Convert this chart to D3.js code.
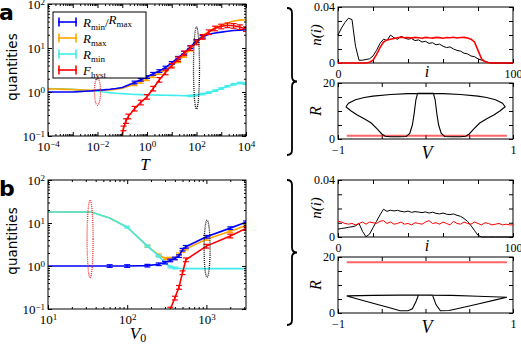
<!DOCTYPE html>
<html lang="en">
<head>
<meta charset="UTF-8">
<script src="https://d3js.org/d3.v7.min.js"></script>
<style>
body { margin: 0; background: #fff; }
</style>
</head>
<body>
<script>
// ---- panel a (main): T on log axis, exponents
var tExpA = [-4,-3.75,-3.5,-3.25,-3,-2.75,-2.5,-2.25,-2,-1.75,-1.5,-1.25,-1,-0.75,-0.5,-0.25,0,0.25,0.5,0.75,1,1.25,1.5,1.75,2,2.25,2.5,2.75,3,3.25,3.5,3.75,4];
var blueA   = [1.0,1.0,1.0,1.0,1.0,1.02,1.04,1.06,1.1,1.12,1.15,1.2,1.27,1.45,1.65,1.9,2.2,2.6,3.0,3.6,4.6,6.0,7.8,10.5,14.5,18,20.5,22,23,24,25,25.5,26];
var orangeA = [1.18,1.17,1.16,1.15,1.14,1.12,1.11,1.1,1.1,1.1,1.12,1.15,1.22,1.35,1.5,1.7,1.95,2.3,2.7,3.2,4.0,5.0,6.6,9.2,14,19,24,29,33,37,41,43,44];
var cyanA   = [1.2,1.19,1.18,1.16,1.15,1.12,1.1,1.07,1.04,1.0,0.97,0.94,0.92,0.9,0.88,0.87,0.86,0.855,0.85,0.845,0.84,0.83,0.82,0.82,0.85,0.9,0.97,1.07,1.2,1.35,1.5,1.6,1.55];
var redExpA = [-1.02,-0.95,-0.85,-0.75,-0.5,-0.25,0,0.25,0.5,0.75,1,1.25,1.5,1.75,2,2.25,2.5,2.75,3,3.25,3.5,3.75,4];
var redA    = [0.1,0.15,0.22,0.28,0.42,0.58,0.78,1.2,1.9,2.8,4.0,5.6,7.6,10,13.5,18,23,28,31,33,32,30,27];

// ---- panel b (main): V0
var v0B     = [10,20,35,60,100,180,250,300,350,400,450,500,550,1000,2000,3162];
var cyanB   = [18,18,18,13,8,2.9,1.7,1.2,0.95,0.9,0.88,0.87,0.87,0.87,0.87,0.87];
var blueB   = [1.0,1.0,1.0,1.0,1.0,1.02,1.1,1.2,1.35,1.5,1.7,2.4,2.8,4.8,7.6,10.4];
var orangeB = [18,18,18,13,8,2.9,1.8,1.5,1.5,1.5,1.9,2.2,2.5,4.2,6.4,8.7];
var redV0B  = [350,400,450,500,550,1000,2000,3162];
var redB    = [0.1,0.18,0.32,0.7,1.4,2.9,5.0,7.5];

// dotted ellipses: [x value, y low, y high, colour]
var ellA = [[0.01, 0.5, 2.1, "#e33"], [100, 0.41, 30, "#111"]];
var ellB = [[34, 0.53, 34, "#e33"], [1020, 0.55, 11.7, "#111"]];

// ---- n(i) distributions
var iGrid = d3.range(0, 101, 2);
var nBlackA = [.020,.025,.029,.032,.031,.012,.002,.002,.0025,.003,.005,.009,.014,.017,.016,.020,.018,.017,.019,.018,.017,.0175,.016,.0165,.015,.0155,.014,.0145,.013,.0135,.012,.011,.0115,.010,.009,.0085,.007,.0065,.005,.0045,.003,.002,.001,.0005,0,0,0,0,0,0,0];
var nRedA   = [0,0,0,0,0,0,0,0,0,.0005,.002,.006,.011,.015,.0165,.017,.0175,.018,.0185,.018,.0182,.0178,.0183,.018,.0177,.0183,.018,.0178,.0183,.0181,.0177,.0182,.018,.0184,.0179,.0182,.0183,.0178,.017,.015,.009,.003,.001,.0002,0,0,0,0,0,0,0];
var nBlackB = [.0055,.006,.0063,.0068,.0072,.0078,.0095,.004,.0002,.002,.0065,.011,.0155,.0195,.018,.0188,.0183,.0187,.018,.0176,.0182,.0173,.0178,.0175,.0171,.0176,.0168,.0174,.0166,.0162,.0168,.016,.0157,.0162,.0152,.0145,.013,.011,.008,.0045,.0012,0,0,0,0,0,0,0,0,0,0];
var nRedB   = [.011,.0105,.0095,.009,.0095,.0085,.0095,.0105,.009,.0105,.01,.0095,.011,.0115,.0095,.0105,.009,.0095,.0105,.009,.0095,.0085,.01,.0095,.009,.0105,.0115,.0095,.01,.009,.0105,.0095,.0085,.011,.0095,.009,.0105,.0095,.009,.0105,.0095,.0085,.01,.0095,.0085,.009,.0095,.0085,.009,.0085,.0085];

// ---- R(V) loops
var rLoopAV = [-0.91,-0.88,-0.8,-0.7,-0.6,-0.4,-0.2,0,0.2,0.4,0.6,0.7,0.8,0.88,0.91,
               0.85,0.78,0.7,0.62,0.55,0.5,0.46,0.4,0.3,0.22,0.18,0.15,0.13,0.11,0.09,
               -0.09,-0.11,-0.13,-0.15,-0.18,-0.22,-0.3,-0.4,-0.46,-0.5,-0.55,-0.62,-0.7,-0.78,-0.85,-0.91];
var rLoopAR = [11.5,12.8,14.0,14.8,15.3,15.9,16.2,16.3,16.2,15.9,15.3,14.8,14.0,12.8,11.5,
               10,8.6,7.2,5.7,3.5,1.8,1.0,0.8,0.8,0.9,2,5,9,14,16.3,
               16.3,14,9,5,2,0.9,0.8,0.8,1.0,1.8,3.5,5.7,7.2,8.6,10,11.5];
var rLoopBV = [-0.9,-0.6,-0.3,0,0.3,0.6,0.93,
               0.8,0.6,0.4,0.27,0.17,0.12,0.08,
               -0.08,-0.11,-0.15,-0.2,-0.29,-0.4,-0.6,-0.9];
var rLoopBR = [6.1,6.3,6.4,6.4,6.3,6.0,5.6,
               4.7,3.2,1.8,0.9,0.8,3,6.4,
               6.4,4,1.5,0.8,0.8,1.8,3.5,6.1];
var rRedV = [-0.9, 0.93];
var rRedA = [1.2, 1.2];
var rRedB = [18.1, 18.1];

var BLUE = "#0000ff", ORANGE = "#ffa500", CYAN = "#40ecec", RED = "#ff0000";
var serif = "'Liberation Serif','DejaVu Serif',serif";

var svg = d3.select("body").append("svg")
    .attr("width", 521)
    .attr("height", 345);

function logTicks(dom, minor) {
    var out = [];
    var e0 = Math.floor(Math.log10(dom[0]) + 1e-9), e1 = Math.ceil(Math.log10(dom[1]) - 1e-9);
    for (var e = e0; e <= e1; e++) {
        if (!minor) {
            var v = Math.pow(10, e);
            if (v >= dom[0] * 0.999 && v <= dom[1] * 1.001) out.push(v);
        } else {
            for (var m = 2; m < 10; m++) {
                var v2 = m * Math.pow(10, e);
                if (v2 > dom[0] && v2 < dom[1]) out.push(v2);
            }
        }
    }
    return out;
}

function sideAxes(g, x, y, minorX, minorY, majX, majY, labX, labY, fmtX, fmtY, size) {
    var X0 = x.range()[0], X1 = x.range()[1], Yb = y.range()[0], Yt = y.range()[1];
    var sides = [
        [d3.axisBottom, x, "translate(0," + Yb + ")", true],
        [d3.axisTop, x, "translate(0," + Yt + ")", false],
        [d3.axisLeft, y, "translate(" + X0 + ",0)", true],
        [d3.axisRight, y, "translate(" + X1 + ",0)", false]
    ];
    sides.forEach(function(s, k) {
        var horiz = k < 2;
        var minors = horiz ? minorX : minorY;
        if (minors.length) {
            var mg = g.append("g").attr("transform", s[2])
                .call(s[0](s[1]).tickValues(minors).tickSize(-2).tickFormat(""));
            mg.select(".domain").remove();
        }
        var maj = g.append("g").attr("transform", s[2])
            .call(s[0](s[1]).tickValues(horiz ? majX : majY).tickSize(-4).tickPadding(horiz ? 6 : 3));
        maj.select(".domain").remove();
        maj.attr("font-family", serif).attr("font-size", size);
        var labs = horiz ? labX : labY, fmt = horiz ? fmtX : fmtY;
        maj.selectAll(".tick text").each(function(d) {
            var t = d3.select(this);
            t.text("");
            if (!s[3] || !labs(d)) return;
            fmt(t, d);
        });
    });
    g.append("rect")
        .attr("x", X0).attr("y", Yt)
        .attr("width", X1 - X0).attr("height", Yb - Yt)
        .attr("fill", "none").attr("stroke", "#000").attr("stroke-width", 1);
}

function powLabel(t, d) {
    var e = Math.round(Math.log10(d));
    t.append("tspan").text("10");
    t.append("tspan").attr("dy", "-0.45em").attr("font-size", "9px")
        .text(e < 0 ? "\u2212" + (-e) : e);
}
function plainLabel(t, d) {
    t.text(String(d).replace("-", "\u2212"));
}

var clipId = 0;
function mainPanel(xDom, top, bottom, xLabs) {
    var g = svg.append("g");
    var x = d3.scaleLog().domain(xDom).range([48, 246]);
    var y = d3.scaleLog().domain([0.1, 100]).range([bottom, top]);
    clipId++;
    g.append("clipPath").attr("id", "c" + clipId).append("rect")
        .attr("x", 48).attr("y", top).attr("width", 198).attr("height", bottom - top);
    var plot = g.append("g").attr("clip-path", "url(#c" + clipId + ")");
    sideAxes(g, x, y, logTicks(xDom, true), logTicks(y.domain(), true),
        logTicks(xDom, false), logTicks(y.domain(), false),
        function(d) { return xLabs.indexOf(Math.round(Math.log10(d))) >= 0; },
        function() { return true; }, powLabel, powLabel, 13);
    return {g: g, plot: plot, x: x, y: y};
}

function series(p, xs, ys, color, errRel, errFrom, errTo) {
    var pts = xs.map(function(v, k) { return [v, ys[k]]; });
    var line = d3.line().x(function(d) { return p.x(d[0]); }).y(function(d) { return p.y(d[1]); });
    p.plot.append("path").datum(pts)
        .attr("d", line).attr("fill", "none").attr("stroke", color).attr("stroke-width", 1.6);
    var eb = p.plot.append("g").attr("stroke", color).attr("stroke-width", 1.2);
    pts.forEach(function(d) {
        if (d[0] < errFrom || d[0] > errTo) return;
        var px = p.x(d[0]), lo = p.y(d[1] * (1 - errRel)), hi = p.y(d[1] * (1 + errRel));
        eb.append("line").attr("x1", px).attr("x2", px).attr("y1", lo).attr("y2", hi);
        eb.append("line").attr("x1", px - 3).attr("x2", px + 3).attr("y1", lo).attr("y2", lo);
        eb.append("line").attr("x1", px - 3).attr("x2", px + 3).attr("y1", hi).attr("y2", hi);
    });
}

function ellipses(p, list, rx) {
    list.forEach(function(e) {
        var ylo = p.y(e[1]), yhi = p.y(e[2]);
        p.g.append("ellipse")
            .attr("cx", p.x(e[0])).attr("cy", (ylo + yhi) / 2)
            .attr("rx", rx).attr("ry", Math.abs(ylo - yhi) / 2)
            .attr("fill", "none").attr("stroke", e[3]).attr("stroke-width", 1.3)
            .attr("stroke-dasharray", "1,1");
    });
}

// ===== panel a main
var pa = mainPanel([1e-4, 1e4], 4, 136, [-4, -2, 0, 2, 4]);
var tA = tExpA.map(function(e) { return Math.pow(10, e); });
series(pa, tA, cyanA, CYAN, 0.04, 50, 1e4);
series(pa, tA, orangeA, ORANGE, 0.07, 0.3, 300);
series(pa, tA, blueA, BLUE, 0.07, 0.3, 300);
series(pa, redExpA.map(function(e) { return Math.pow(10, e); }), redA, RED, 0.12, 0.1, 1e4);
ellipses(pa, ellA, 3);

// legend
var leg = pa.g.append("g");
leg.append("rect").attr("x", 53).attr("y", 12).attr("width", 93).attr("height", 66)
    .attr("fill", "#fff").attr("stroke", "#000").attr("stroke-width", 1);
var legItems = [
    [BLUE, [["R", "min"], "/", ["R", "max"]]],
    [ORANGE, [["R", "max"]]],
    [CYAN, [["R", "min"]]],
    [RED, [["F", "hyst"]]]
];
legItems.forEach(function(it, k) {
    var ly = 22 + k * 16;
    var s = leg.append("g").attr("stroke", it[0]).attr("stroke-width", 1.6);
    s.append("line").attr("x1", 58).attr("x2", 77).attr("y1", ly).attr("y2", ly);
    s.append("line").attr("x1", 59).attr("x2", 59).attr("y1", ly - 4.5).attr("y2", ly + 4.5);
    s.append("line").attr("x1", 76).attr("x2", 76).attr("y1", ly - 4.5).attr("y2", ly + 4.5);
    var t = leg.append("text").attr("x", 83).attr("y", ly + 4.5)
        .attr("font-family", serif).attr("font-size", 13);
    it[1].forEach(function(part) {
        if (typeof part === "string") {
            t.append("tspan").attr("dy", "-3").text(part);
        } else {
            var first = t.select("tspan").empty();
            t.append("tspan").attr("font-style", "italic").attr("dy", first ? 0 : -3).text(part[0]);
            t.append("tspan").attr("font-size", 9).attr("dy", 3).text(part[1]);
        }
    });
});

// ===== panel b main
var pb = mainPanel([10, 3162], 180, 309, [1, 2, 3]);
series(pb, v0B, orangeB, ORANGE, 0.06, 150, 4000);
series(pb, v0B, cyanB, CYAN, 0.05, 90, 400);
series(pb, v0B, blueB, BLUE, 0.07, 50, 4000);
series(pb, redV0B, redB, RED, 0.1, 300, 4000);
ellipses(pb, ellB, 3);

// axis titles for main panels
[[70, "a", 20], [244, "b", 196]].forEach(function(a) {
    svg.append("text").attr("transform", "translate(17," + (a[0] - 3) + ") rotate(-90)")
        .attr("text-anchor", "middle").attr("font-family", "'DejaVu Sans',sans-serif")
        .attr("font-size", 13.5).text("quantities");
    svg.append("text").attr("x", -1).attr("y", a[2])
        .attr("font-family", "'DejaVu Sans',sans-serif").attr("font-weight", "bold")
        .attr("font-size", 22).text(a[1]);
});
svg.append("text").attr("x", 145).attr("y", 170).attr("text-anchor", "middle")
    .attr("font-family", serif).attr("font-style", "italic").attr("font-size", 17).text("T");
var v0t = svg.append("text").attr("x", 138).attr("y", 339).attr("text-anchor", "middle")
    .attr("font-family", serif).attr("font-size", 17);
v0t.append("tspan").attr("font-style", "italic").text("V");
v0t.append("tspan").attr("font-size", 12).attr("dy", 3).text("0");

// ===== small panels
function smallPanel(top, bottom, xDom, yDom, xTicks, yTicks, xLabs, yLabs) {
    var g = svg.append("g");
    var x = d3.scaleLinear().domain(xDom).range([338, 513]);
    var y = d3.scaleLinear().domain(yDom).range([bottom, top]);
    sideAxes(g, x, y, [], [], xTicks, yTicks,
        function(d) { return xLabs.indexOf(d) >= 0; },
        function(d) { return yLabs.indexOf(d) >= 0; }, plainLabel, plainLabel, 12);
    g.selectAll(".tick text").filter(function() { return this.textContent === ""; }).remove();
    return {g: g, x: x, y: y};
}
function curve(p, xs, ys, color, w, op) {
    var pts = xs.map(function(v, k) { return [v, ys[k]]; });
    p.g.append("path").datum(pts)
        .attr("d", d3.line().x(function(d) { return p.x(d[0]); }).y(function(d) { return p.y(d[1]); }))
        .attr("fill", "none").attr("stroke", color).attr("stroke-width", w).attr("stroke-opacity", op);
}

var nTicks = [0, 20, 40, 60, 80, 100], nyTicks = [0, 0.01, 0.02, 0.03, 0.04];
var rTicks = [-1, -0.5, 0, 0.5, 1], ryTicks = [0, 5, 10, 15, 20];

var na = smallPanel(7, 63, [0, 100], [0, 0.04], nTicks, nyTicks, [0, 100], [0, 0.04]);
curve(na, iGrid, nBlackA, "#000", 1, 1);
curve(na, iGrid, nRedA, RED, 1.6, 1);
var ra = smallPanel(83, 139, [-1, 1], [0, 20], rTicks, ryTicks, [-1, 1], [0, 20]);
curve(ra, rRedV, rRedA, RED, 2, 0.6);
curve(ra, rLoopAV, rLoopAR, "#000", 1.1, 1);

var nb = smallPanel(180, 237, [0, 100], [0, 0.04], nTicks, nyTicks, [0, 100], [0, 0.04]);
curve(nb, iGrid, nBlackB, "#000", 1, 1);
curve(nb, iGrid, nRedB, RED, 1, 1);
var rb = smallPanel(257, 313, [-1, 1], [0, 20], rTicks, ryTicks, [-1, 1], [0, 20]);
curve(rb, rRedV, rRedB, RED, 2, 0.6);
curve(rb, rLoopBV, rLoopBR, "#000", 1.1, 1);

// small panel axis labels
[[35, 77, 111, 159], [208, 251, 285, 333]].forEach(function(r) {
    var nl = svg.append("text").attr("transform", "translate(321," + r[0] + ") rotate(-90)")
        .attr("text-anchor", "middle").attr("font-family", serif).attr("font-size", 15)
        .attr("font-style", "italic");
    nl.text("n(i)");
    svg.append("text").attr("x", 427).attr("y", r[1]).attr("text-anchor", "middle")
        .attr("font-family", serif).attr("font-style", "italic").attr("font-size", 16).text("i");
    svg.append("text").attr("transform", "translate(321," + r[2] + ") rotate(-90)")
        .attr("text-anchor", "middle").attr("font-family", serif).attr("font-style", "italic")
        .attr("font-size", 16).text("R");
    svg.append("text").attr("x", 427).attr("y", r[3]).attr("text-anchor", "middle")
        .attr("font-family", serif).attr("font-style", "italic").attr("font-size", 18).text("V");
});

// curly braces
function brace(x, top, bot, a) {
    var mid = (top + bot) / 2;
    var p = d3.path();
    p.moveTo(x, top);
    p.quadraticCurveTo(x + a, top, x + a, top + a);
    p.lineTo(x + a, mid - a);
    p.quadraticCurveTo(x + a, mid, x + 2 * a, mid);
    p.quadraticCurveTo(x + a, mid, x + a, mid + a);
    p.lineTo(x + a, bot - a);
    p.quadraticCurveTo(x + a, bot, x, bot);
    svg.append("path").attr("d", p.toString()).attr("fill", "none")
        .attr("stroke", "#000").attr("stroke-width", 1.8);
}
brace(287, 8, 155, 5);
brace(287, 180, 325, 5);
</script>
</body>
</html>
